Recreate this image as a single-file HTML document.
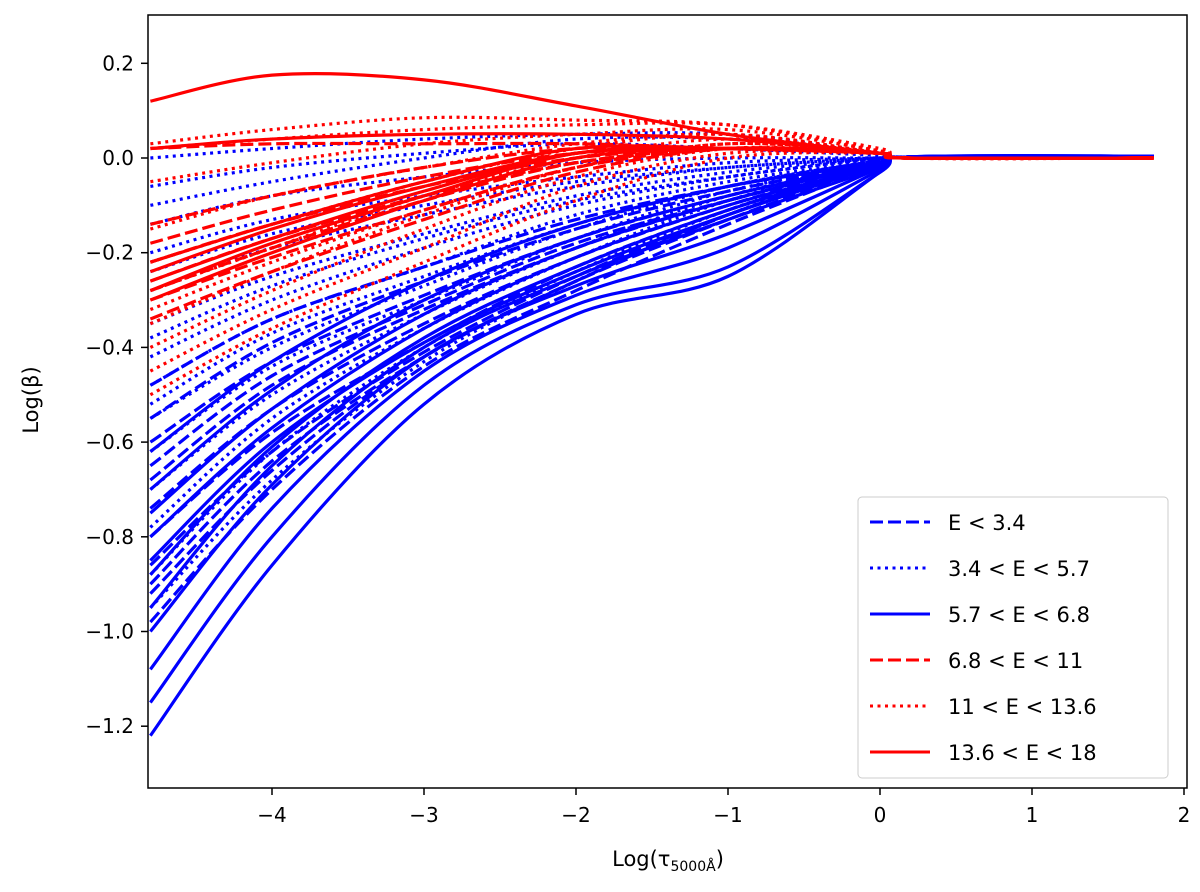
<!DOCTYPE html>
<html><head><meta charset="utf-8"><style>
body{margin:0;background:#fff;}
svg text{font-family:"DejaVu Sans","Liberation Sans",sans-serif;fill:#000;}
</style></head><body>
<svg id="chart" width="1200" height="887" viewBox="0 0 1200 887" xmlns="http://www.w3.org/2000/svg">
<defs><clipPath id="clip"><rect x="148" y="15" width="1039" height="773"/></clipPath></defs>
<g id="curves" clip-path="url(#clip)"></g>
<rect x="148" y="15" width="1039" height="773" fill="none" stroke="#000" stroke-width="1.5"/>
<g id="axes"></g>
<text x="38" y="400" font-size="21" text-anchor="middle" transform="rotate(-90 38 400)">Log(β)</text>
<text x="668" y="866" font-size="21" text-anchor="middle">Log(τ<tspan font-size="14" dy="5">5000Å</tspan><tspan dy="-5">)</tspan></text>
<g id="legend"></g>
</svg>
<script>
const xKnots=[-4.8,-4,-3,-2,-1,0,0.17,1.8];
const xTicks=[-4,-3,-2,-1,0,1,2];
const xTickLabels=["−4","−3","−2","−1","0","1","2"];
const yTicks=[0.2,0,-0.2,-0.4,-0.6,-0.8,-1.0,-1.2];
const yTickLabels=["0.2","0.0","−0.2","−0.4","−0.6","−0.8","−1.0","−1.2"];
const blueSolid=[[-1.22,-0.86,-0.52,-0.33,-0.25,-0.03],[-1.15,-0.80,-0.48,-0.31,-0.23,-0.03],[-1.08,-0.74,-0.45,-0.29,-0.19,-0.025],[-1.0,-0.69,-0.42,-0.27,-0.16,-0.02],[-0.95,-0.65,-0.40,-0.25,-0.13,-0.02],[-0.88,-0.61,-0.38,-0.23,-0.11,-0.015],[-0.80,-0.57,-0.36,-0.21,-0.10,-0.015],[-0.75,-0.53,-0.33,-0.19,-0.09,-0.01],[-0.70,-0.49,-0.30,-0.17,-0.08,-0.01],[-0.62,-0.43,-0.26,-0.14,-0.06,-0.01],[-0.85,-0.60,-0.39,-0.24,-0.12,-0.015]];
const blueDashed=[[-0.98,-0.70,-0.44,-0.28,-0.14,-0.015],[-0.92,-0.66,-0.42,-0.26,-0.13,-0.015],[-0.86,-0.62,-0.41,-0.25,-0.12,-0.015],[-0.80,-0.58,-0.39,-0.23,-0.11,-0.01],[-0.74,-0.53,-0.35,-0.21,-0.10,-0.01],[-0.68,-0.48,-0.32,-0.19,-0.09,-0.01],[-0.60,-0.43,-0.29,-0.17,-0.08,-0.01],[-0.55,-0.39,-0.26,-0.15,-0.07,-0.01],[-0.48,-0.34,-0.23,-0.13,-0.06,-0.005],[-0.65,-0.46,-0.31,-0.18,-0.09,-0.01],[-0.90,-0.64,-0.42,-0.26,-0.12,-0.015]];
const blueDotted=[[-0.95,-0.68,-0.43,-0.26,-0.12,-0.01],[-0.88,-0.62,-0.40,-0.24,-0.11,-0.01],[-0.78,-0.55,-0.36,-0.21,-0.09,-0.01],[-0.70,-0.50,-0.33,-0.19,-0.08,-0.01],[-0.62,-0.44,-0.30,-0.17,-0.07,-0.01],[-0.55,-0.40,-0.27,-0.15,-0.06,-0.005],[-0.48,-0.34,-0.23,-0.12,-0.05,-0.005],[-0.42,-0.30,-0.19,-0.10,-0.04,0],[-0.35,-0.25,-0.16,-0.08,-0.03,0],[-0.28,-0.19,-0.12,-0.06,-0.02,0],[-0.20,-0.13,-0.08,-0.04,-0.01,0],[-0.14,-0.08,-0.04,-0.01,0,0],[-0.06,-0.02,0.01,0.03,0.02,0.005],[0.0,0.02,0.04,0.05,0.05,0.01],[-0.1,-0.05,0.0,0.04,0.04,0.01],[-0.38,-0.27,-0.17,-0.09,-0.04,0],[-0.24,-0.16,-0.10,-0.05,-0.02,0],[-0.52,-0.37,-0.25,-0.14,-0.06,-0.005]];
const redDashed=[[-0.34,-0.24,-0.13,-0.03,0.02,0.01],[-0.30,-0.21,-0.11,-0.02,0.02,0.01],[-0.26,-0.17,-0.08,-0.01,0.02,0.01],[-0.22,-0.14,-0.06,0.0,0.02,0.01],[-0.18,-0.11,-0.04,0.01,0.02,0.01],[-0.14,-0.08,-0.02,0.02,0.02,0.01],[0.02,0.03,0.03,0.03,0.02,0.01],[-0.28,-0.19,-0.09,-0.01,0.02,0.01]];
const redDotted=[[-0.50,-0.36,-0.22,-0.09,0.0,0.01],[-0.45,-0.32,-0.19,-0.06,0.01,0.01],[-0.40,-0.28,-0.15,-0.04,0.02,0.01],[-0.35,-0.24,-0.12,-0.02,0.03,0.01],[-0.28,-0.19,-0.08,0.0,0.04,0.01],[-0.22,-0.14,-0.05,0.02,0.05,0.01],[-0.15,-0.08,-0.02,0.03,0.05,0.01],[-0.05,-0.01,0.03,0.05,0.06,0.015],[0.03,0.06,0.085,0.08,0.07,0.015],[0.02,0.04,0.06,0.07,0.07,0.02],[-0.32,-0.22,-0.11,-0.02,0.03,0.01]];
const redSolid=[[0.12,0.175,0.165,0.11,0.05,0.01],[0.02,0.04,0.05,0.05,0.04,0.01],[-0.22,-0.14,-0.05,0.02,0.02,0.01],[-0.26,-0.17,-0.07,0.01,0.02,0.01],[-0.30,-0.20,-0.09,0.0,0.02,0.01],[-0.24,-0.15,-0.06,0.01,0.02,0.01],[-0.28,-0.18,-0.08,0.01,0.02,0.01]];
const tailBlue=[0.002,0.004];
const tailRed=[0,0];
const legendLabels=["E < 3.4","3.4 < E < 5.7","5.7 < E < 6.8","6.8 < E < 11","11 < E < 13.6","13.6 < E < 18"];

const NS="http://www.w3.org/2000/svg";
const X=v=>880+152*v;
const Y=v=>158-473.5*v;
const DASH={dashed:"13,5",dotted:"3,4.5",solid:""};
function pathFor(vals){
  const pts=xKnots.map((x,i)=>[X(x),Y(vals[i])]);
  let d="M"+pts[0][0]+","+pts[0][1];
  for(let i=0;i<pts.length-1;i++){
    const p0=pts[Math.max(0,i-1)],p1=pts[i],p2=pts[i+1],p3=pts[Math.min(pts.length-1,i+2)];
    const c1=[p1[0]+(p2[0]-p0[0])/6,p1[1]+(p2[1]-p0[1])/6];
    const c2=[p2[0]-(p3[0]-p1[0])/6,p2[1]-(p3[1]-p1[1])/6];
    d+=" C"+c1+" "+c2+" "+p2;
  }
  return d;
}
const g=document.getElementById('curves');
function drawGroup(rows,color,style,tail,name){
  rows.forEach(r=>{
    const p=document.createElementNS(NS,'path');
    
    
    p.setAttribute('d',pathFor(r.concat(tail)));
    p.setAttribute('fill','none');p.setAttribute('stroke',color);p.setAttribute('stroke-width','3.2');
    if(DASH[style])p.setAttribute('stroke-dasharray',DASH[style]);
    g.appendChild(p);
  });
}
drawGroup(blueSolid,'#0000ff','solid',tailBlue,'curve-blue-solid');
drawGroup(blueDashed,'#0000ff','dashed',tailBlue,'curve-blue-dashed');
drawGroup(blueDotted,'#0000ff','dotted',tailBlue,'curve-blue-dotted');
drawGroup(redDashed,'#ff0000','dashed',tailRed,'curve-red-dashed');
drawGroup(redDotted,'#ff0000','dotted',tailRed,'curve-red-dotted');
drawGroup(redSolid,'#ff0000','solid',tailRed,'curve-red-solid');

const ax=document.getElementById('axes');
xTicks.forEach((v,i)=>{
  const l=document.createElementNS(NS,'line');
  
  
  l.setAttribute('x1',X(v));l.setAttribute('x2',X(v));l.setAttribute('y1',788);l.setAttribute('y2',795);l.setAttribute('stroke','#000');l.setAttribute('stroke-width','1.5');
  ax.appendChild(l);
  const t=document.createElementNS(NS,'text');
  
  
  t.setAttribute('x',X(v));t.setAttribute('y',822);t.setAttribute('font-size','20');t.setAttribute('text-anchor','middle');
  t.textContent=xTickLabels[i];ax.appendChild(t);
});
yTicks.forEach((v,i)=>{
  const l=document.createElementNS(NS,'line');
  
  
  l.setAttribute('x1',141);l.setAttribute('x2',148);l.setAttribute('y1',Y(v));l.setAttribute('y2',Y(v));l.setAttribute('stroke','#000');l.setAttribute('stroke-width','1.5');
  ax.appendChild(l);
  const t=document.createElementNS(NS,'text');
  
  
  t.setAttribute('x',134);t.setAttribute('y',Y(v)+7);t.setAttribute('font-size','20');t.setAttribute('text-anchor','end');
  t.textContent=yTickLabels[i];ax.appendChild(t);
});
const lg=document.getElementById('legend');
const box=document.createElementNS(NS,'rect');


box.setAttribute('x',858);box.setAttribute('y',497);box.setAttribute('width',310);box.setAttribute('height',281);box.setAttribute('rx',4);
box.setAttribute('fill','#fff');box.setAttribute('fill-opacity','0.85');box.setAttribute('stroke','#ccc');
lg.appendChild(box);
const lgStyles=[['#0000ff','dashed'],['#0000ff','dotted'],['#0000ff','solid'],['#ff0000','dashed'],['#ff0000','dotted'],['#ff0000','solid']];
legendLabels.forEach((s,i)=>{
  const y=522+46*i;
  const l=document.createElementNS(NS,'line');
  
  
  l.setAttribute('x1',870);l.setAttribute('x2',930);l.setAttribute('y1',y);l.setAttribute('y2',y);
  l.setAttribute('stroke',lgStyles[i][0]);l.setAttribute('stroke-width','3');
  if(DASH[lgStyles[i][1]])l.setAttribute('stroke-dasharray',DASH[lgStyles[i][1]]);
  lg.appendChild(l);
  const t=document.createElementNS(NS,'text');
  
  
  t.setAttribute('x',948);t.setAttribute('y',y+8);t.setAttribute('font-size','21');
  t.textContent=s;lg.appendChild(t);
});
</script>
</body></html>
